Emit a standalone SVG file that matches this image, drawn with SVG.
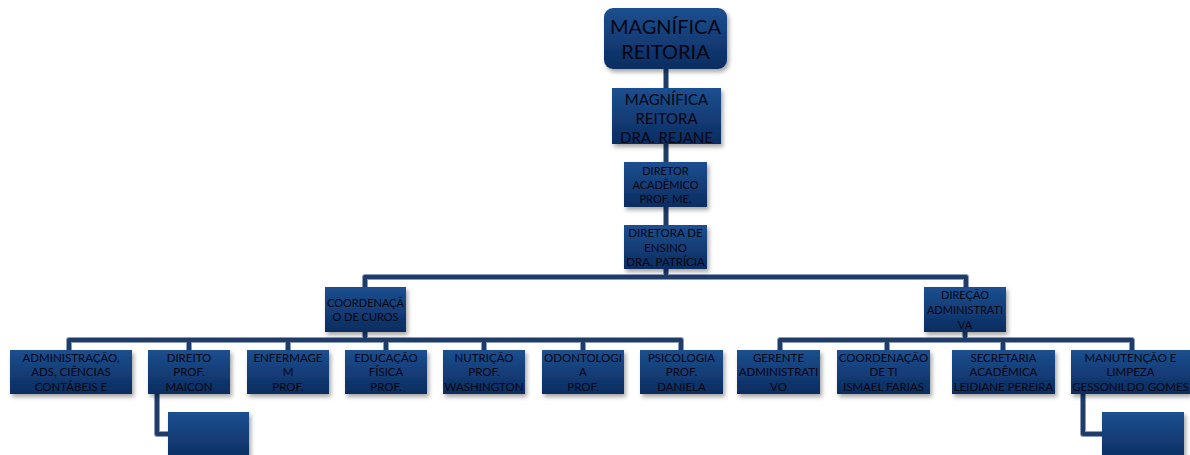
<svg xmlns="http://www.w3.org/2000/svg" width="1190" height="455" viewBox="0 0 1190 455">
<style>
.box{fill:url(#g);filter:url(#sh)}
.t{font-family:Lato,"Liberation Sans",sans-serif;fill:#050512;text-anchor:middle}
.s{font-size:11.5px}
.c1{fill:none;stroke:#8a9dbb;stroke-width:6;stroke-linejoin:round;stroke-linecap:butt}
.c2{fill:none;stroke:#1f3c69;stroke-width:4;stroke-linejoin:round;stroke-linecap:butt}
</style>
<defs>
<linearGradient id="g" x1="0" y1="0" x2="0" y2="1">
<stop offset="0" stop-color="#1c4f8f"/>
<stop offset="1" stop-color="#0c2c60"/>
</linearGradient>
<filter id="sh" x="-20%" y="-20%" width="150%" height="160%">
<feDropShadow dx="2" dy="3" stdDeviation="2" flood-color="#000" flood-opacity="0.35"/>
</filter>
<clipPath id="k1"><rect x="604" y="8" width="123" height="61"/></clipPath>
<clipPath id="k2"><rect x="612" y="88" width="109" height="56"/></clipPath>
<clipPath id="k3"><rect x="624" y="162" width="83" height="45"/></clipPath>
<clipPath id="k4"><rect x="624" y="225" width="83" height="44"/></clipPath>
<clipPath id="k5"><rect x="325" y="287" width="81" height="45"/></clipPath>
<clipPath id="k6"><rect x="924" y="287" width="82" height="45"/></clipPath>
<clipPath id="b1"><rect x="10" y="350" width="122" height="44"/></clipPath>
<clipPath id="b2"><rect x="148" y="350" width="82" height="44"/></clipPath>
<clipPath id="b3"><rect x="247" y="350" width="82" height="44"/></clipPath>
<clipPath id="b4"><rect x="345" y="350" width="82" height="44"/></clipPath>
<clipPath id="b5"><rect x="443" y="350" width="82" height="44"/></clipPath>
<clipPath id="b6"><rect x="542" y="350" width="82" height="44"/></clipPath>
<clipPath id="b7"><rect x="640" y="350" width="83" height="44"/></clipPath>
<clipPath id="b8"><rect x="737" y="350" width="83" height="44"/></clipPath>
<clipPath id="b9"><rect x="837" y="350" width="93" height="44"/></clipPath>
<clipPath id="b10"><rect x="952" y="350" width="103" height="44"/></clipPath>
<clipPath id="b11"><rect x="1071" y="350" width="119" height="44"/></clipPath>
</defs>

<g id="connectors">
<g class="c1">
<path d="M666,69V277M365,287V277H966V287M365,332V340M69,350V340H681V350M189,340V350M288,340V350M386,340V350M484,340V350M583,340V350M965,332V340M780,350V340H1132V350M887,340V350M1003,340V350M157,394V434H168M1083,394V434H1102"/>
</g>
<g class="c2">
<path d="M666,69V277M365,287V277H966V287M365,332V340M69,350V340H681V350M189,340V350M288,340V350M386,340V350M484,340V350M583,340V350M965,332V340M780,350V340H1132V350M887,340V350M1003,340V350M157,394V434H168M1083,394V434H1102"/>
</g>
</g>

<g id="n-reitoria">
<rect class="box" x="604" y="8" width="123" height="61" rx="9"/>
<g clip-path="url(#k1)"><text class="t" font-size="20"><tspan x="665.5" y="34">MAGNÍFICA</tspan><tspan x="665.5" y="59">REITORIA</tspan></text></g>
</g>
<g id="n-reitora">
<rect class="box" x="612" y="88" width="109" height="56"/>
<g clip-path="url(#k2)"><text class="t" font-size="15"><tspan x="666.5" y="105">MAGNÍFICA</tspan><tspan x="666.5" y="124">REITORA</tspan><tspan x="666.5" y="143">DRA. REJANE</tspan></text></g>
</g>
<g id="n-diretor">
<rect class="box" x="624" y="162" width="83" height="45"/>
<g clip-path="url(#k3)"><text class="t" font-size="11"><tspan x="665.5" y="175">DIRETOR</tspan><tspan x="665.5" y="189">ACADÊMICO</tspan><tspan x="665.5" y="203">PROF. ME.</tspan></text></g>
</g>
<g id="n-diretora">
<rect class="box" x="624" y="225" width="83" height="44"/>
<g clip-path="url(#k4)"><text class="t" font-size="11.5"><tspan x="665.5" y="237">DIRETORA DE</tspan><tspan x="665.5" y="252">ENSINO</tspan><tspan x="665.5" y="266">DRA. PATRÍCIA</tspan></text></g>
</g>
<g id="n-coord">
<rect class="box" x="325" y="287" width="81" height="45"/>
<g clip-path="url(#k5)"><text class="t" font-size="11"><tspan x="365.5" y="307">COORDENAÇÃ</tspan><tspan x="365.5" y="321">O DE CUROS</tspan></text></g>
</g>
<g id="n-direcao">
<rect class="box" x="924" y="287" width="82" height="45"/>
<g clip-path="url(#k6)"><text class="t" font-size="11"><tspan x="965" y="299">DIREÇÃO</tspan><tspan x="965" y="314">ADMINISTRATI</tspan><tspan x="965" y="329">VA</tspan></text></g>
</g>

<g id="n-adm">
<rect class="box" x="10" y="350" width="122" height="44"/>
<g clip-path="url(#b1)"><text class="t s"><tspan x="71" y="362">ADMINISTRAÇÃO,</tspan><tspan x="71" y="376">ADS, CIÊNCIAS</tspan><tspan x="71" y="391">CONTÁBEIS E</tspan></text></g>
</g>
<g id="n-direito">
<rect class="box" x="148" y="350" width="82" height="44"/>
<g clip-path="url(#b2)"><text class="t s"><tspan x="189" y="362">DIREITO</tspan><tspan x="189" y="376">PROF.</tspan><tspan x="189" y="391">MAICON</tspan></text></g>
</g>
<g id="n-enf">
<rect class="box" x="247" y="350" width="82" height="44"/>
<g clip-path="url(#b3)"><text class="t s"><tspan x="288" y="362">ENFERMAGE</tspan><tspan x="288" y="376">M</tspan><tspan x="288" y="391">PROF.</tspan></text></g>
</g>
<g id="n-edu">
<rect class="box" x="345" y="350" width="82" height="44"/>
<g clip-path="url(#b4)"><text class="t s"><tspan x="386" y="362">EDUCAÇÃO</tspan><tspan x="386" y="376">FÍSICA</tspan><tspan x="386" y="391">PROF.</tspan></text></g>
</g>
<g id="n-nut">
<rect class="box" x="443" y="350" width="82" height="44"/>
<g clip-path="url(#b5)"><text class="t s"><tspan x="484" y="362">NUTRIÇÃO</tspan><tspan x="484" y="376">PROF.</tspan><tspan x="484" y="391">WASHINGTON</tspan></text></g>
</g>
<g id="n-odo">
<rect class="box" x="542" y="350" width="82" height="44"/>
<g clip-path="url(#b6)"><text class="t s"><tspan x="583" y="362">ODONTOLOGI</tspan><tspan x="583" y="376">A</tspan><tspan x="583" y="391">PROF.</tspan></text></g>
</g>
<g id="n-psi">
<rect class="box" x="640" y="350" width="83" height="44"/>
<g clip-path="url(#b7)"><text class="t s"><tspan x="681.5" y="362">PSICOLOGIA</tspan><tspan x="681.5" y="376">PROF.</tspan><tspan x="681.5" y="391">DANIELA</tspan></text></g>
</g>
<g id="n-gerente">
<rect class="box" x="737" y="350" width="83" height="44"/>
<g clip-path="url(#b8)"><text class="t s"><tspan x="778.5" y="362">GERENTE</tspan><tspan x="778.5" y="376">ADMINISTRATI</tspan><tspan x="778.5" y="391">VO</tspan></text></g>
</g>
<g id="n-ti">
<rect class="box" x="837" y="350" width="93" height="44"/>
<g clip-path="url(#b9)"><text class="t s"><tspan x="883.5" y="362">COORDENAÇÃO</tspan><tspan x="883.5" y="376">DE TI</tspan><tspan x="883.5" y="391">ISMAEL FARIAS</tspan></text></g>
</g>
<g id="n-sec">
<rect class="box" x="952" y="350" width="103" height="44"/>
<g clip-path="url(#b10)"><text class="t s"><tspan x="1003.5" y="362">SECRETARIA</tspan><tspan x="1003.5" y="376">ACADÊMICA</tspan><tspan x="1003.5" y="391">LEIDIANE PEREIRA</tspan></text></g>
</g>
<g id="n-manut">
<rect class="box" x="1071" y="350" width="119" height="44"/>
<g clip-path="url(#b11)"><text class="t s"><tspan x="1130.5" y="362">MANUTENÇÃO E</tspan><tspan x="1130.5" y="376">LIMPEZA</tspan><tspan x="1130.5" y="391">GESSONILDO GOMES</tspan></text></g>
</g>
<g id="n-sub1">
<rect class="box" x="168" y="412" width="81" height="50"/>
</g>
<g id="n-sub2">
<rect class="box" x="1102" y="412" width="82" height="50"/>
</g>
</svg>
